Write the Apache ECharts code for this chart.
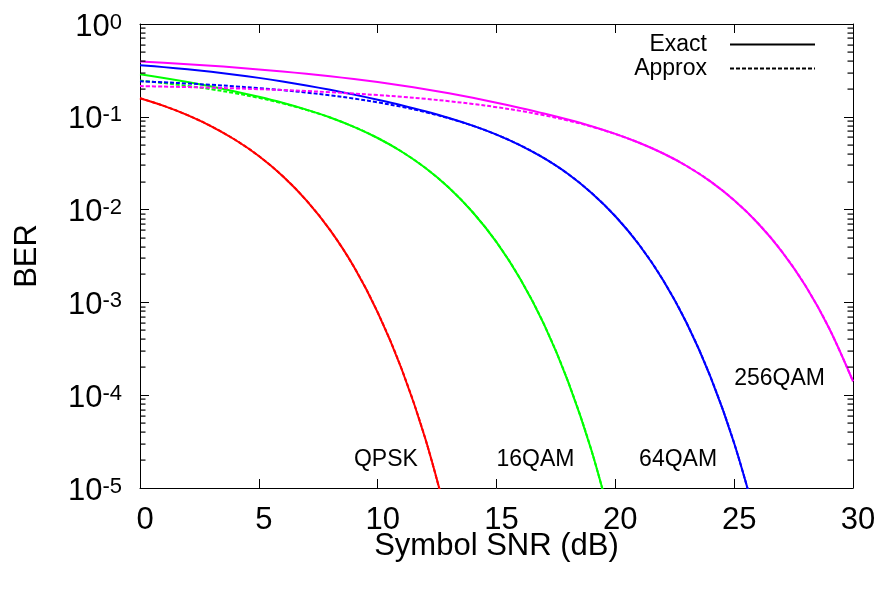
<!DOCTYPE html>
<html>
<head>
<meta charset="utf-8">
<script src="https://cdn.jsdelivr.net/npm/echarts@6/dist/echarts.min.js"></script>
<style>
html,body{margin:0;padding:0;background:#fff;}
#chart{width:878px;height:592px;}
</style>
</head>
<body>
<div id="chart"></div>
<script>
// Symbol SNR (dB) sample points
const snr = [0,1,2,3,4,5,6,7,8,9,10,11,12,13,14,15,16,17,18,19,20,21,22,23,24,25,26,27,28,29,30];

// BER values (one value per dB, starting at 0 dB)
const qpskExact  = [0.1587,0.1312,0.1043,0.0790,0.0566,0.0378,0.0230,0.01257,0.00600,0.00242,7.82e-4,1.94e-4,3.43e-5,3.96e-6];
const qpskApprox = [0.1587,0.1312,0.1043,0.0790,0.0566,0.0378,0.0230,0.01257,0.00600,0.00242,7.82e-4,1.94e-4,3.43e-5,3.96e-6];

const qam16Exact  = [0.2876,0.2625,0.2375,0.2124,0.1878,0.1642,0.1415,0.1195,0.0984,0.0780,0.0591,0.0423,0.0282,0.01718,0.00936,0.00446,0.00179,5.80e-4,1.43e-4,2.52e-5,2.90e-6];
const qam16Approx = [0.2457,0.2309,0.2153,0.1981,0.1796,0.1600,0.1397,0.1188,0.0982,0.0780,0.0591,0.0423,0.0282,0.01718,0.00936,0.00446,0.00179,5.80e-4,1.43e-4,2.52e-5,2.90e-6];

const qam64Exact  = [0.3600,0.3430,0.3247,0.3051,0.2845,0.2627,0.2402,0.2175,0.1952,0.1735,0.1526,0.1332,0.1148,0.0972,0.0803,0.0643,0.0493,0.03582,0.02433,0.01509,0.008476,0.004183,0.001754,5.99e-4,1.584e-4,3.04e-5,3.89e-6];
const qam64Approx = [0.2413,0.2353,0.2286,0.2211,0.2129,0.2036,0.1936,0.1824,0.1703,0.1572,0.1430,0.1282,0.1125,0.0963,0.0800,0.0642,0.0493,0.03582,0.02433,0.01509,0.008476,0.004183,0.001754,5.99e-4,1.584e-4,3.04e-5,3.89e-6];

const qam256Exact  = [0.3955,0.3829,0.3694,0.3551,0.3399,0.3240,0.3076,0.2907,0.2732,0.2553,0.2369,0.2178,0.1984,0.1791,0.1601,0.1418,0.1245,0.1085,0.09341,0.07916,0.06550,0.05254,0.04046,0.02951,0.02012,0.01259,0.007128,0.003554,0.001510,5.24e-4,1.414e-4];
const qam256Approx = [0.2141,0.2117,0.2090,0.2059,0.2024,0.1985,0.1943,0.1895,0.1841,0.1781,0.1716,0.1642,0.1562,0.1473,0.1376,0.1271,0.1158,0.1038,0.09128,0.07834,0.06525,0.05249,0.04045,0.02951,0.02012,0.01259,0.007128,0.003554,0.001510,5.24e-4,1.414e-4];

// Curve labels (data coordinates)
const labelText = ['QPSK','16QAM','64QAM','256QAM'];
const labelX = [9, 15, 21, 25];
const labelY = [2e-5, 2e-5, 2e-5, 1.5e-4];

// Axis ticks
const xTicks = [0,5,10,15,20,25,30];
const yDecades = [1e-5,1e-4,1e-3,1e-2,1e-1,1];
const yMinorMultipliers = [2,3,4,5,6,7,8,9];

const yMinor = [];
yDecades.slice(0, -1).forEach(d => yMinorMultipliers.forEach(m => yMinor.push(d * m)));

const FONT = '"Liberation Sans", Arial, Helvetica, sans-serif';
const xMin = xTicks[0], xMax = xTicks[xTicks.length - 1];

function pairs(vals) { return vals.map((v, i) => [snr[i], v]); }

function curve(name, vals, color, dashed) {
  return {
    name: name, type: 'line', data: pairs(vals),
    xAxisIndex: 0, yAxisIndex: 0,
    symbol: 'none', smooth: 0.35, clip: true, silent: true,
    lineStyle: { color: color, width: 2, type: dashed ? [4, 2] : 'solid' },
    itemStyle: { color: color },
    emphasis: { disabled: true }
  };
}

const chart = echarts.init(document.getElementById('chart'), null, { renderer: 'canvas' });

const yBase = {
  type: 'log', logBase: 10, min: 1e-5, max: 1,
  splitLine: { show: false }
};

const option = {
  backgroundColor: '#fff',
  animation: false,
  textStyle: { fontFamily: FONT },
  grid: { left: 140, right: 25, top: 24, bottom: 104, containLabel: false, outerBoundsMode: 'none' },
  legend: {
    data: ['Exact', 'Approx'],
    orient: 'vertical',
    right: 57, top: 28,
    align: 'right',
    itemWidth: 85, itemHeight: 14, itemGap: 1,
    selectedMode: false,
    itemStyle: { opacity: 0 },
    textStyle: { fontSize: 23, fontFamily: FONT, color: '#000', lineHeight: 22, padding: [0, 18, 0, 0] }
  },
  xAxis: [
    {
      type: 'value', min: xMin, max: xMax, interval: 5, position: 'bottom',
      name: 'Symbol SNR (dB)', nameLocation: 'middle', nameGap: 43, nameMoveOverlap: false,
      nameTextStyle: { fontSize: 31, fontFamily: FONT, color: '#000' },
      axisLine: { show: true, onZero: false, lineStyle: { color: '#000', width: 1 } },
      axisTick: { show: true, inside: true, length: 9, lineStyle: { color: '#000' }, customValues: xTicks },
      axisLabel: { show: true, fontSize: 31, fontFamily: FONT, color: '#000', margin: 17, padding: [0, 0, 0, 10], customValues: xTicks },
      splitLine: { show: false }
    },
    {
      type: 'value', min: xMin, max: xMax, interval: 5, position: 'top',
      axisLine: { show: true, onZero: false, lineStyle: { color: '#000', width: 1 } },
      axisTick: { show: true, inside: true, length: 9, lineStyle: { color: '#000' }, customValues: xTicks },
      axisLabel: { show: false },
      splitLine: { show: false }
    }
  ],
  yAxis: [
    Object.assign({}, yBase, {
      position: 'left',
      name: 'BER', nameLocation: 'middle', nameGap: 97, nameRotate: 90, nameMoveOverlap: false,
      nameTextStyle: { fontSize: 31, fontFamily: FONT, color: '#000' },
      axisLine: { show: true, onZero: false, lineStyle: { color: '#000', width: 1 } },
      axisTick: { show: true, inside: true, length: 9, lineStyle: { color: '#000' }, customValues: yDecades },
      axisLabel: {
        show: true, margin: 18, customValues: yDecades, padding: [6, 0, 0, 0],
        formatter: function (v) {
          const e = Math.round(Math.log10(v));
          return '{b|10}{s|' + e + '}';
        },
        rich: {
          b: { fontSize: 31, lineHeight: 31, fontFamily: FONT, color: '#000' },
          s: { fontSize: 22, lineHeight: 10, verticalAlign: 'top', fontFamily: FONT, color: '#000' }
        }
      }
    }),
    Object.assign({}, yBase, {
      position: 'right',
      axisLine: { show: true, onZero: false, lineStyle: { color: '#000', width: 1 } },
      axisTick: { show: true, inside: true, length: 9, lineStyle: { color: '#000' }, customValues: yDecades },
      axisLabel: { show: false }
    })
  ],
  series: [
    curve('QPSK exact', qpskExact, '#ff0000', false),
    curve('QPSK approx', qpskApprox, '#ff0000', true),
    curve('16QAM exact', qam16Exact, '#00ff00', false),
    curve('16QAM approx', qam16Approx, '#00ff00', true),
    curve('64QAM exact', qam64Exact, '#0000ff', false),
    curve('64QAM approx', qam64Approx, '#0000ff', true),
    curve('256QAM exact', qam256Exact, '#ff00ff', false),
    curve('256QAM approx', qam256Approx, '#ff00ff', true),
    {
      name: 'Exact', type: 'line', data: [], symbol: 'none', xAxisIndex: 0, yAxisIndex: 0,
      lineStyle: { color: '#000', width: 2, type: 'solid' }, itemStyle: { color: '#000' }
    },
    {
      name: 'Approx', type: 'line', data: [], symbol: 'none', xAxisIndex: 0, yAxisIndex: 0,
      lineStyle: { color: '#000', width: 2, type: [4, 2] }, itemStyle: { color: '#000' }
    },
    {
      // minor log ticks (2..9 x 10^k) on both vertical frame sides, placed via the y scale
      name: 'minorTicks', type: 'custom', xAxisIndex: 0, yAxisIndex: 0,
      clip: false, z: 5,
      data: yMinor.map(v => [xMin, v]),
      renderItem: function (params, api) {
        const v = api.value(1);
        const pL = api.coord([xMin, v]);
        const pR = api.coord([xMax, v]);
        const y = Math.round(pL[1]) - 0.5;
        return {
          type: 'group',
          children: [
            { type: 'rect', shape: { x: pL[0], y: y, width: 5.5, height: 1.2 }, style: { fill: '#000' } },
            { type: 'rect', shape: { x: pR[0] - 5.5, y: y, width: 5.5, height: 1.2 }, style: { fill: '#000' } }
          ]
        };
      },
      emphasis: { disabled: true }
    },
    {
      name: 'labels', type: 'scatter', silent: true, xAxisIndex: 0, yAxisIndex: 0,
      symbolSize: 0,
      itemStyle: { opacity: 1, color: '#000' },
      data: labelText.map((t, i) => ({ value: [labelX[i], labelY[i]], name: t })),
      label: {
        show: true, position: 'right', distance: 0,
        formatter: p => p.name,
        fontSize: 23, fontFamily: FONT, color: '#000', opacity: 1
      },
      emphasis: { disabled: true }
    }
  ]
};

chart.setOption(option);
</script>
</body>
</html>
